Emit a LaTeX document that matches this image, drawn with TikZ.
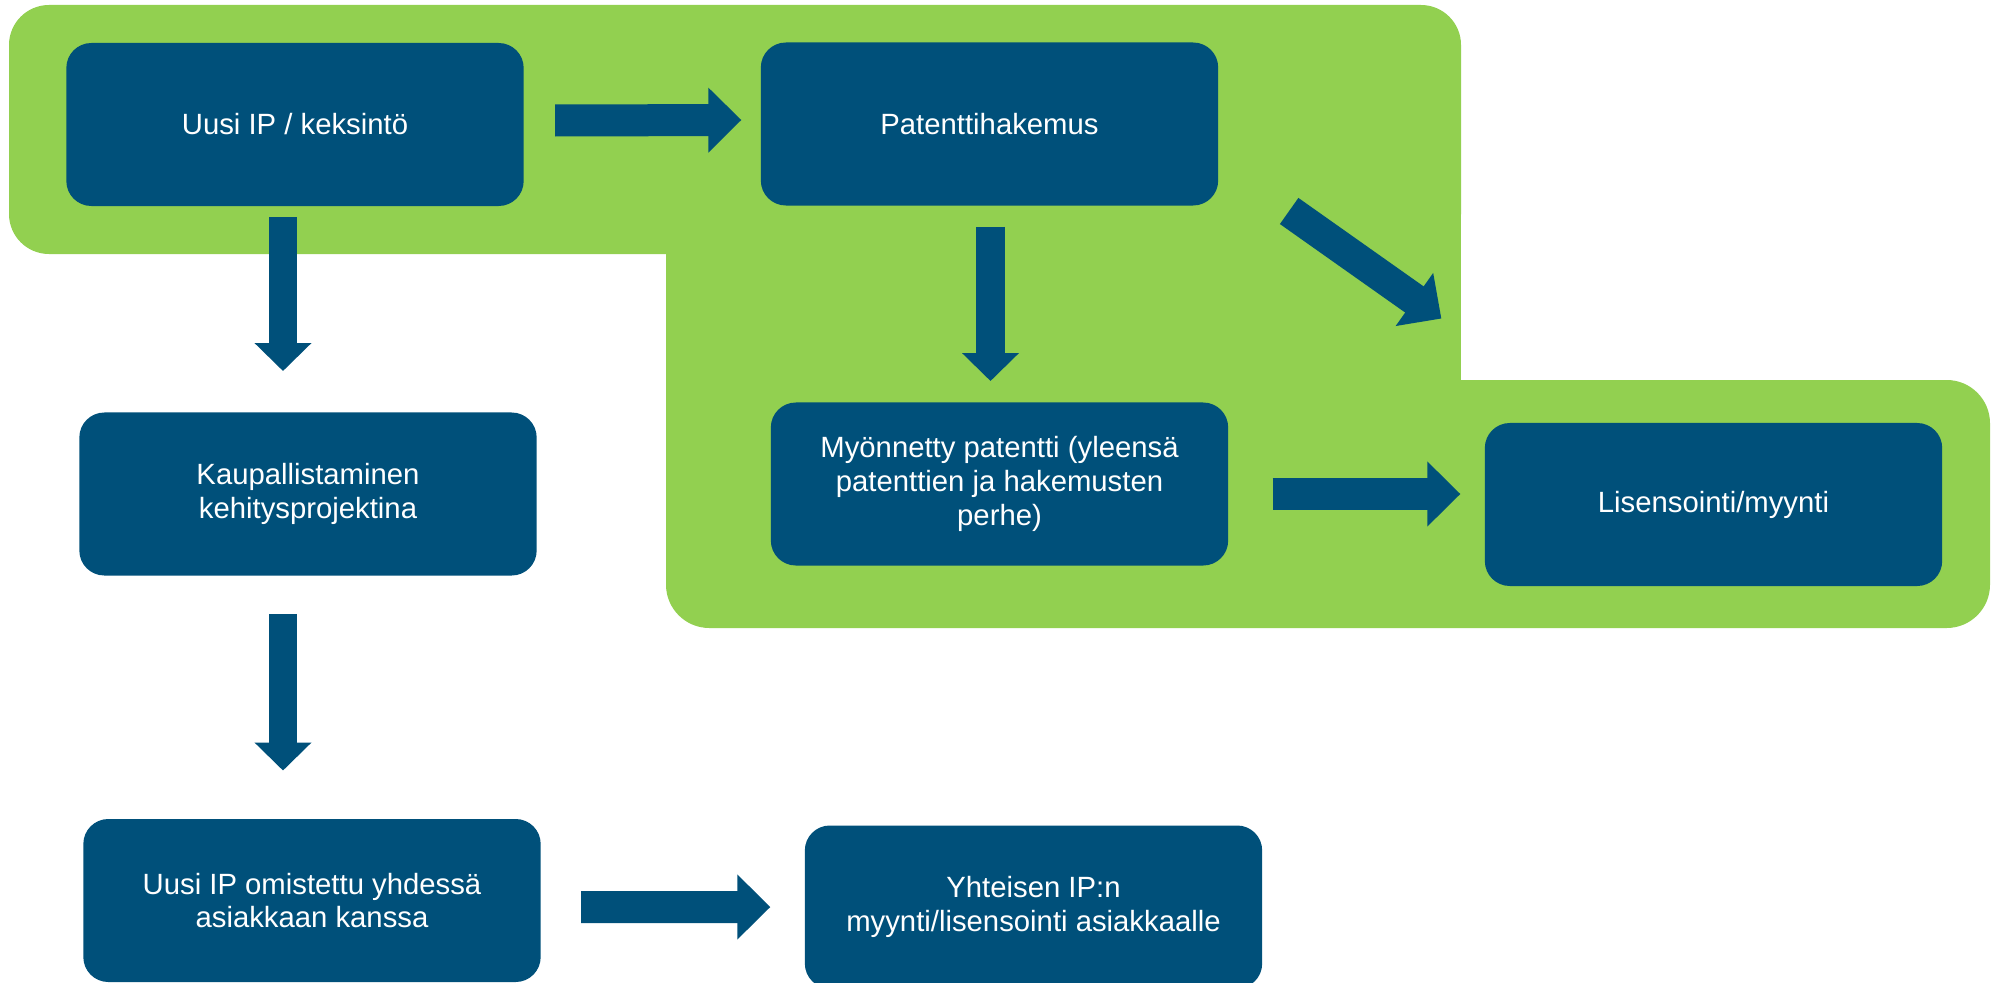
\documentclass[tikz,border=0pt]{standalone}
\usepackage{fontspec}
\setmainfont{Liberation Sans}
\usepackage{tikz}
\usetikzlibrary{calc,positioning,arrows.meta}
\definecolor{AreaGreen}{HTML}{92D050}
\definecolor{BoxBlue}{HTML}{00507A}

\begin{document}
\begin{tikzpicture}[x=0.015cm, y=-0.015cm,
  stage/.style={rectangle, rounded corners=0.375cm, fill=BoxBlue, text=white,
    minimum width=6.86cm, minimum height=2.445cm, inner sep=0pt, align=center,
    font=\fontsize{12.5pt}{14.4pt}\selectfont},
  flow/.style={BoxBlue, line width=0.48cm, -{Triangle[length=0.495cm, width=0.945cm]}},
  flowdown/.style={BoxBlue, line width=0.43cm, -{Triangle[length=0.42cm, width=0.83cm]}}]
  \useasboundingbox (0,0) rectangle (1993,983);

  % Green areas
  \fill[AreaGreen, rounded corners=0.6cm] (9,5) rectangle (1461,254);
  \fill[AreaGreen] (666,200) rectangle (1461,420);
  \fill[AreaGreen, rounded corners=0.65cm] (666,380) rectangle (1990,628);

  % Stages
  \node[stage] (uusi) at (295,124.5) {Uusi IP / keksintö};
  \node[stage] (hakemus) at (989.5,124) {Patenttihakemus};
  \node[stage] (kaupallistus) at (308,494) {Kaupallistaminen\\kehitysprojektina};
  \node[stage] (myonnetty) at (999.5,484) {Myönnetty patentti (yleensä\\patenttien ja hakemusten\\perhe)};
  \node[stage] (lisensointi) at (1713.5,504.5) {Lisensointi/myynti};
  \node[stage] (yhteisomistus) at (312,900.5) {Uusi IP omistettu yhdessä\\asiakkaan kanssa};
  \node[stage] (yhteismyynti) at (1033.5,907) {Yhteisen IP:n\\myynti/lisensointi asiakkaalle};

  % Arrows
  \draw[flow] ($(uusi.east)+(31,-4)$) -- ($(hakemus.west)+(-19,-4)$);
  \draw[flowdown] ($(uusi.south)+(-12,11)$) -- ($(kaupallistus.north)+(-25,-41)$);
  \draw[flowdown] ($(kaupallistus.south)+(-25,38)$) -- ($(yhteisomistus.north)+(-29,-48)$);
  \draw[flowdown] ($(hakemus.south)+(1,21)$) -- ($(myonnetty.north)+(-9,-21)$);
  \draw[flow] ($(hakemus.south east)+(70.5,5)$) -- ($(lisensointi.north west)+(-43,-104)$);
  \draw[flow] ($(myonnetty.east)+(44,10)$) -- ($(lisensointi.west)+(-24,-10.5)$);
  \draw[flow] ($(yhteisomistus.east)+(40,6.5)$) -- ($(yhteismyynti.west)+(-34,0)$);
\end{tikzpicture}
\end{document}
